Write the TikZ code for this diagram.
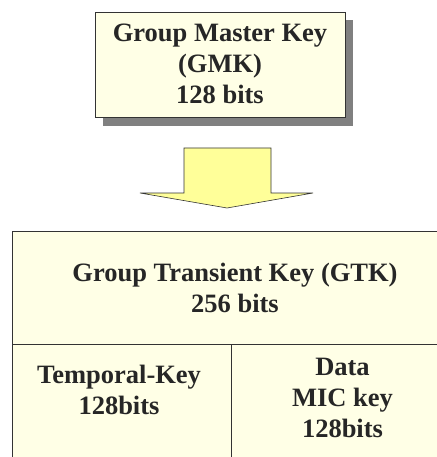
\documentclass[tikz,border=0pt]{standalone}
\usepackage{fontspec}
\setmainfont{Liberation Serif}
\definecolor{cream}{HTML}{FFFFE6}
\definecolor{arrowfill}{HTML}{FFFF99}
\definecolor{edge}{HTML}{333333}
\definecolor{shadowgray}{HTML}{808080}
\begin{document}
\begin{tikzpicture}[x=1pt,y=-1pt,
  % anchor=base sits on the baseline of the last line
  keytext/.style={font=\fontsize{26.5}{31}\selectfont\bfseries, text=black!85,
    align=center, inner sep=0pt, anchor=base},
  frame/.style={draw=edge, line width=0.9pt}]
\useasboundingbox (0,0) rectangle (436,457);
% master key box with drop shadow
\fill[shadowgray] (103,20) rectangle (353,126);
\draw[frame, fill=cream] (95,12) rectangle (345,117);
\node[keytext] (gmk) at (220,103.5) {Group Master Key\\(GMK)\\128 bits};
% block arrow
\draw[frame, fill=arrowfill, line width=0.6pt]
  (184,148) -- (271,148) -- (271,193) -- (313,193) -- (227,208)
  -- (140,193) -- (184,193) -- cycle;
% transient key table
\draw[frame, fill=cream] (12,231) -- (440,231) -- (440,460) -- (12,460) -- cycle;
\draw[frame] (12,344) -- (440,344);
\draw[frame] (231,344) -- (231,460);
\node[keytext] (gtk) at (235,312.5) {Group Transient Key (GTK)\\256 bits};
\node[keytext] (tk) at (119,414.5) {Temporal-Key\\128bits};
\node[keytext] (mic) at (342.5,437) {Data\\MIC key\\128bits};
\end{tikzpicture}
\end{document}
